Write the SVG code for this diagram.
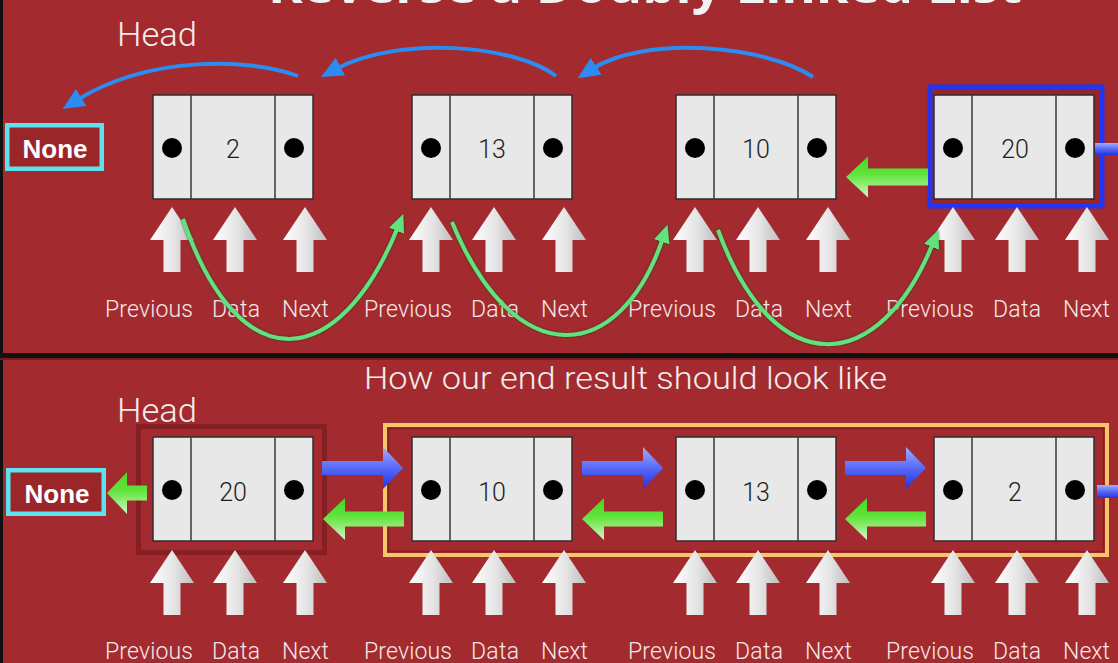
<svg xmlns="http://www.w3.org/2000/svg" xmlns:xlink="http://www.w3.org/1999/xlink" width="1118" height="663" viewBox="0 0 1118 663">
<style>
.lbl{font-family:Roboto,"Open Sans","Liberation Sans",sans-serif;font-weight:300;font-size:23px;fill:#f3e9e9}
.head{font-family:Roboto,"Open Sans","Liberation Sans",sans-serif;font-weight:300;font-size:34px;fill:#f3eded}
.sub{font-family:Roboto,"Open Sans","Liberation Sans",sans-serif;font-weight:300;font-size:31px;fill:#f3eded}
.none{font-family:"Liberation Sans",Arial,sans-serif;font-weight:bold;font-size:26px;fill:#ffffff}
.val{font-family:Roboto,"Liberation Sans",sans-serif;font-weight:300;font-size:25px;fill:#1e1e1e;text-anchor:middle}
.cell{fill:#e8e8e8;stroke:#2e2e2e;stroke-width:1.5}
.div{stroke:#3a3a3a;stroke-width:1.5}
.dot{fill:#000}
.bcurve{fill:none;stroke:#2b8cf2;stroke-width:4}
.gcurve{fill:none;stroke:#62e27c;stroke-width:4}
.nonebox{fill:#9b2629;stroke:#5ce1ef;stroke-width:4.5}
</style>
<defs>
<linearGradient id="gw" x1="0" y1="0" x2="1" y2="0">
<stop offset="0" stop-color="#ffffff"/>
<stop offset="0.55" stop-color="#e4e4e4"/>
<stop offset="1" stop-color="#bdbdbd"/>
</linearGradient>
<linearGradient id="gg" x1="0" y1="0" x2="0" y2="1">
<stop offset="0" stop-color="#45d625"/>
<stop offset="0.45" stop-color="#62e43c"/>
<stop offset="1" stop-color="#d2f7c6"/>
</linearGradient>
<linearGradient id="gb" x1="0" y1="0" x2="0" y2="1">
<stop offset="0" stop-color="#a0adff"/>
<stop offset="0.5" stop-color="#5869f7"/>
<stop offset="1" stop-color="#2233dd"/>
</linearGradient>
<filter id="sh" x="-10%" y="-10%" width="120%" height="120%">
<feDropShadow dx="0" dy="0" stdDeviation="1" flood-color="#17361c" flood-opacity="0.9"/>
</filter>
<marker id="mBlue" markerUnits="userSpaceOnUse" markerWidth="22" markerHeight="20" viewBox="0 0 22 20" refX="5" refY="10" orient="auto">
<path d="M0,0 L22,10 L0,20 z" fill="#2b8cf2"/>
</marker>
<marker id="mGreen" markerUnits="userSpaceOnUse" markerWidth="18" markerHeight="16" viewBox="0 0 18 16" refX="4" refY="8" orient="auto">
<path d="M0,0 L18,8 L0,16 z" fill="#62e27c"/>
</marker>
<path id="up" d="M0,0 L22,33 L8.5,33 L8.5,65 L-8.5,65 L-8.5,33 L-22,33 Z" fill="url(#gw)"/>
<g id="nodeBody">
<rect class="cell" x="0" y="0" width="160" height="104"/>
<line class="div" x1="38" y1="0" x2="38" y2="104"/>
<line class="div" x1="122" y1="0" x2="122" y2="104"/>
<circle class="dot" cx="19" cy="53" r="10"/>
<circle class="dot" cx="141" cy="53" r="10"/>
</g>
<path id="bArrow" d="M0,-7 H61 V-21 L81,0 L61,21 V7 H0 Z" fill="url(#gb)"/>
<path id="gArrow" d="M0,0 L22,-21 V-7.5 H81 V7.5 H22 V21 Z" fill="url(#gg)"/>
</defs>

<rect x="0" y="0" width="1118" height="663" fill="#a32b2f"/>
<rect x="0" y="0" width="3" height="663" fill="#111"/>
<rect x="0" y="353" width="1118" height="5" fill="#111"/>
<rect x="0" y="358" width="1118" height="2" fill="#7a1b1e"/>

<text x="268" y="3" font-family="'Open Sans','Liberation Sans',sans-serif" font-weight="bold" font-size="50" fill="#f2f2f2" textLength="754" lengthAdjust="spacingAndGlyphs">Reverse a Doubly Linked List</text>

<!-- top section -->
<text class="head" x="117" y="46" textLength="80" lengthAdjust="spacingAndGlyphs">Head</text>
<g id="none-top">
<rect class="nonebox" x="7.25" y="125.25" width="94.5" height="43.5"/>
<text class="none" x="55" y="158" text-anchor="middle">None</text>
</g>

<rect x="930" y="87" width="172" height="119" fill="#952528" stroke="#2235f0" stroke-width="5"/>

<g id="t-node-2" transform="translate(153,95)"><use xlink:href="#nodeBody"/><text class="val" x="80" y="63">2</text></g>
<g id="t-node-13" transform="translate(412,95)"><use xlink:href="#nodeBody"/><text class="val" x="80" y="63">13</text></g>
<g id="t-node-10" transform="translate(676,95)"><use xlink:href="#nodeBody"/><text class="val" x="80" y="63">10</text></g>
<g id="t-node-20" transform="translate(934,95)"><use xlink:href="#nodeBody"/><text class="val" x="81" y="63">20</text></g>

<!-- bottom section -->
<text class="sub" x="364" y="389" textLength="523" lengthAdjust="spacingAndGlyphs">How our end result should look like</text>
<text class="head" x="117" y="422" textLength="80" lengthAdjust="spacingAndGlyphs">Head</text>
<g id="none-bottom">
<rect class="nonebox" x="8.25" y="470.25" width="95.5" height="43.5"/>
<text class="none" x="57" y="503" text-anchor="middle">None</text>
</g>
<rect x="138.5" y="426.5" width="186" height="126" fill="none" stroke="#7e1d20" stroke-width="5" opacity="0.8"/>
<rect x="385" y="425" width="722" height="130" fill="none" stroke="#f7c66a" stroke-width="4"/>
<rect x="388.5" y="428.5" width="715" height="123" fill="none" stroke="#7a1b1e" stroke-width="1.5" opacity="0.7"/>

<g id="b-node-20" transform="translate(153,437)"><use xlink:href="#nodeBody"/><text class="val" x="80" y="64">20</text></g>
<g id="b-node-10" transform="translate(412,437)"><use xlink:href="#nodeBody"/><text class="val" x="80" y="64">10</text></g>
<g id="b-node-13" transform="translate(676,437)"><use xlink:href="#nodeBody"/><text class="val" x="80" y="64">13</text></g>
<g id="b-node-2" transform="translate(934,437)"><use xlink:href="#nodeBody"/><text class="val" x="81" y="64">2</text></g>

<!-- field pointers and labels -->
<g id="fields">
<use xlink:href="#up" x="172" y="207"/><use xlink:href="#up" x="235" y="207"/><use xlink:href="#up" x="305" y="207"/>
<use xlink:href="#up" x="431" y="207"/><use xlink:href="#up" x="494" y="207"/><use xlink:href="#up" x="564" y="207"/>
<use xlink:href="#up" x="695" y="207"/><use xlink:href="#up" x="758" y="207"/><use xlink:href="#up" x="828" y="207"/>
<use xlink:href="#up" x="953" y="207"/><use xlink:href="#up" x="1017" y="207"/><use xlink:href="#up" x="1087" y="207"/>
<use xlink:href="#up" x="172" y="550"/><use xlink:href="#up" x="235" y="550"/><use xlink:href="#up" x="305" y="550"/>
<use xlink:href="#up" x="431" y="550"/><use xlink:href="#up" x="494" y="550"/><use xlink:href="#up" x="564" y="550"/>
<use xlink:href="#up" x="695" y="550"/><use xlink:href="#up" x="758" y="550"/><use xlink:href="#up" x="828" y="550"/>
<use xlink:href="#up" x="953" y="550"/><use xlink:href="#up" x="1017" y="550"/><use xlink:href="#up" x="1087" y="550"/>

<g lengthAdjust="spacingAndGlyphs">
<text class="lbl" x="105" y="317" textLength="88">Previous</text><text class="lbl" x="212" y="317" textLength="48">Data</text><text class="lbl" x="282" y="317" textLength="47">Next</text>
<text class="lbl" x="364" y="317" textLength="88">Previous</text><text class="lbl" x="471" y="317" textLength="48">Data</text><text class="lbl" x="541" y="317" textLength="47">Next</text>
<text class="lbl" x="628" y="317" textLength="88">Previous</text><text class="lbl" x="735" y="317" textLength="48">Data</text><text class="lbl" x="805" y="317" textLength="47">Next</text>
<text class="lbl" x="886" y="317" textLength="88">Previous</text><text class="lbl" x="993" y="317" textLength="48">Data</text><text class="lbl" x="1063" y="317" textLength="47">Next</text>
<text class="lbl" x="105" y="659" textLength="88">Previous</text><text class="lbl" x="212" y="659" textLength="48">Data</text><text class="lbl" x="282" y="659" textLength="47">Next</text>
<text class="lbl" x="364" y="659" textLength="88">Previous</text><text class="lbl" x="471" y="659" textLength="48">Data</text><text class="lbl" x="541" y="659" textLength="47">Next</text>
<text class="lbl" x="628" y="659" textLength="88">Previous</text><text class="lbl" x="735" y="659" textLength="48">Data</text><text class="lbl" x="805" y="659" textLength="47">Next</text>
<text class="lbl" x="886" y="659" textLength="88">Previous</text><text class="lbl" x="993" y="659" textLength="48">Data</text><text class="lbl" x="1063" y="659" textLength="47">Next</text>
</g>
</g>

<g id="connectors">
<path class="bcurve" d="M298,76 C250,58 150,55 77,100" marker-end="url(#mBlue)"/>
<path class="bcurve" d="M556,76 C515,45 400,35 336,69" marker-end="url(#mBlue)"/>
<path class="bcurve" d="M813,77 C765,45 645,35 592,69" marker-end="url(#mBlue)"/>
<g filter="url(#sh)">
<path class="gcurve" d="M183,219 C240,385 340,370 398,227" marker-end="url(#mGreen)"/>
<path class="gcurve" d="M452,222 C515,375 620,365 663,238" marker-end="url(#mGreen)"/>
<path class="gcurve" d="M718,230 C775,385 880,375 933,243" marker-end="url(#mGreen)"/>
</g>
<path d="M846,177 L868,156.5 V168.5 H928 V185.5 H868 V197.5 Z" fill="url(#gg)"/>
<rect x="1095" y="143" width="23" height="12" fill="url(#gb)"/>
<path d="M107,493 L127,472 V485.5 H147 V500.5 H127 V514 Z" fill="url(#gg)"/>
<use xlink:href="#bArrow" x="322" y="468"/>
<use xlink:href="#bArrow" x="582" y="468"/>
<use xlink:href="#bArrow" x="845" y="468"/>
<use xlink:href="#gArrow" x="323" y="519"/>
<use xlink:href="#gArrow" x="582" y="519"/>
<use xlink:href="#gArrow" x="845" y="519"/>
<rect x="1097" y="485" width="21" height="13" fill="url(#gb)"/>
</g>
</svg>
